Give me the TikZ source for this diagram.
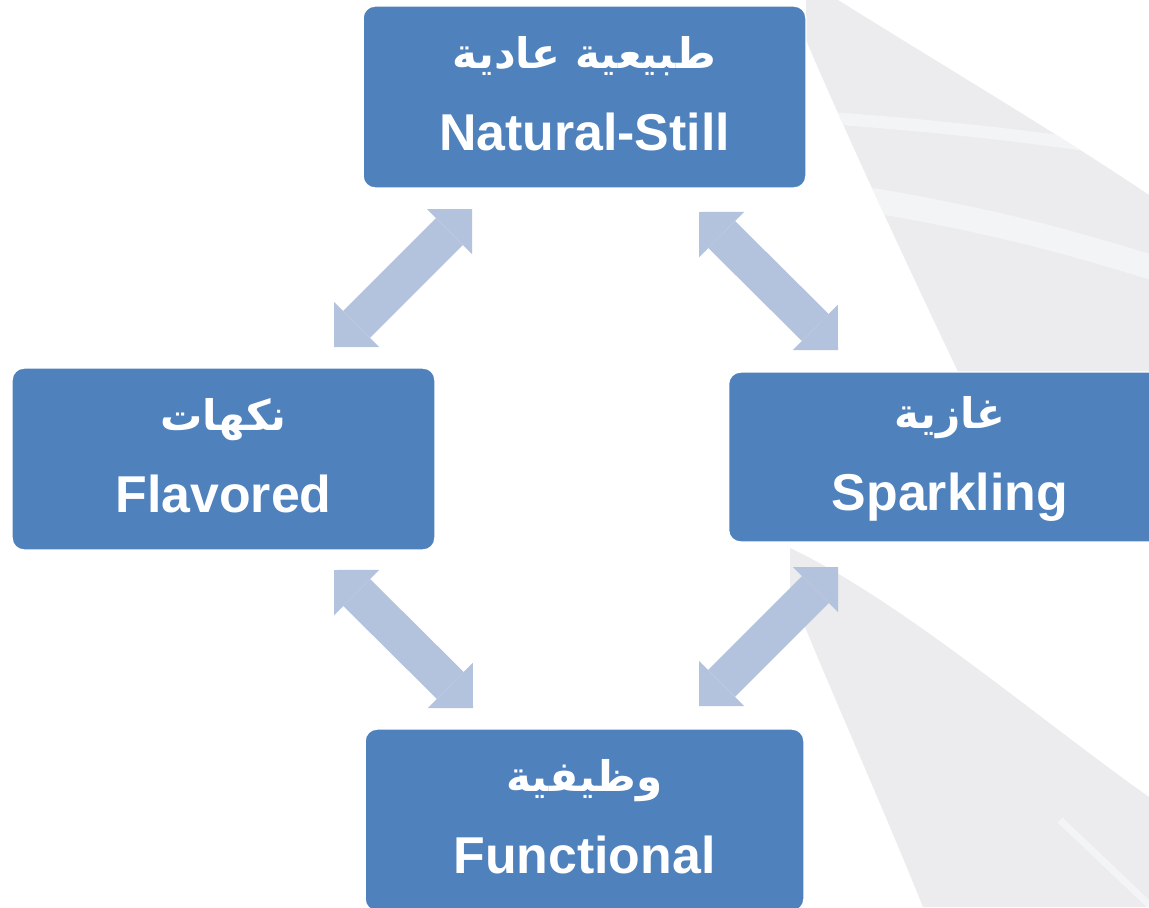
\documentclass[tikz,border=0pt]{standalone}
\usepackage{fontspec}
\setmainfont{Liberation Sans}
\newfontfamily\arabicfont[Script=Arabic]{DejaVu Sans}
\TeXXeTstate=1
\usetikzlibrary{arrows.meta,backgrounds}
\definecolor{boxblue}{HTML}{4F81BD}
\definecolor{linkblue}{HTML}{B3C2DD}
\definecolor{haze}{HTML}{ECECEE}
\definecolor{hazeblue}{HTML}{F4F6F9}
\newcommand\artext[1]{{\arabicfont\bfseries\fontsize{24}{28}\selectfont\beginR #1\endR}}
\tikzset{
  kind/.style={
    draw=white,
    fill=boxblue,
    line width=0.8pt,
    rounded corners=0.24cm,
    minimum width=8.86cm,
    minimum height=3.64cm,
    inner sep=0pt,
    align=center,
    text=white,
    text depth=4pt,
    font=\fontsize{29.5}{35}\selectfont\bfseries
  },
  link/.style={
    {Triangle[length=0.64cm,width=1.28cm,line width=0pt]}-{Triangle[length=0.64cm,width=1.28cm,line width=0pt]},
    draw=linkblue,
    line width=0.76cm
  },
  swoosh/.style={fill=haze, draw=none},
  streak/.style={draw=hazeblue, opacity=0.8}
}

\begin{document}
\begin{tikzpicture}[x=0.02cm,y=-0.02cm]
  \useasboundingbox (0,0) rectangle (1149,907);

  % soft backdrop on the right
  \begin{scope}[on background layer]
    \fill[white] (0,0) rectangle (1149,907);
    \fill[swoosh] (806,0) -- (838,0) .. controls (950,70) and (1060,135) .. (1149,195)
      -- (1149,380) -- (962,380) .. controls (900,250) and (840,120) .. (806,40) -- cycle;
    \begin{scope}
      \clip (806,0) -- (838,0) .. controls (950,70) and (1060,135) .. (1149,195)
        -- (1149,380) -- (962,380) .. controls (900,250) and (840,120) .. (806,40) -- cycle;
      \draw[streak, line width=7pt] (800,116) .. controls (950,126) and (1060,140) .. (1160,156);
      \draw[streak, line width=14pt] (820,192) .. controls (980,216) and (1070,242) .. (1160,270);
    \end{scope}
    \fill[swoosh] (790,548) .. controls (900,600) and (1040,720) .. (1149,797)
      -- (1149,907) -- (923,907) .. controls (880,800) and (830,690) .. (790,590) -- cycle;
    \begin{scope}
      \clip (790,548) .. controls (900,600) and (1040,720) .. (1149,797)
        -- (1149,907) -- (923,907) .. controls (880,800) and (830,690) .. (790,590) -- cycle;
      \draw[streak, line width=4pt] (1060,820) -- (1160,915);
    \end{scope}
  \end{scope}

  \node[kind] (natural) at (584.5,97) {
    \artext{طبيعية عادية}\\[12pt]Natural-Still
  };
  \node[kind, minimum width=8.46cm] (flavored) at (223.5,459) {
    \artext{نكهات}\\[12pt]Flavored
  };
  \node[kind, minimum height=3.4cm] (sparkling) at (950,457) {
    \artext{غازية}\\[12pt]Sparkling
  };
  \node[kind, minimum width=8.78cm] (functional) at (584.5,820) {
    \artext{وظيفية}\\[12pt]Functional
  };

  % arrow ends sit just off the box corners
  \coordinate (natural-fl) at (472,209);
  \coordinate (flavored-na) at (334,347);
  \coordinate (natural-sp) at (699,212);
  \coordinate (sparkling-na) at (838,350);
  \coordinate (flavored-fu) at (334,570);
  \coordinate (functional-fl) at (473,708);
  \coordinate (sparkling-fu) at (838,567);
  \coordinate (functional-sp) at (699,706);

  \draw[link] (natural-fl) -- (flavored-na);
  \draw[link] (natural-sp) -- (sparkling-na);
  \draw[link] (flavored-fu) -- (functional-fl);
  \draw[link] (sparkling-fu) -- (functional-sp);
\end{tikzpicture}
\end{document}
